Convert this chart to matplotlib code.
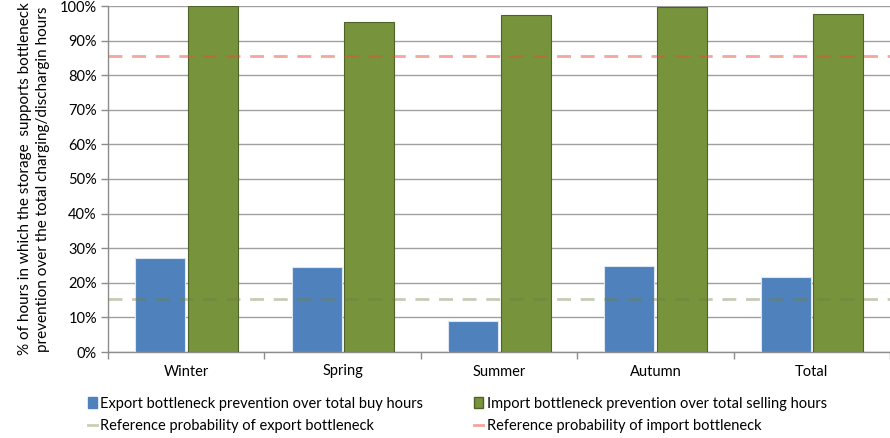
import matplotlib
matplotlib.use("Agg")
import matplotlib.pyplot as plt
import numpy as np
from matplotlib.ticker import MultipleLocator, PercentFormatter, FixedLocator, NullFormatter
from matplotlib.lines import Line2D
from matplotlib.patches import Patch

plt.rcParams['font.family'] = ['Lato', 'DejaVu Sans']

seasons = ["Winter", "Spring", "Summer", "Autumn", "Total"]
export_prevention = [27.2, 24.6, 9.0, 24.9, 21.7]
import_prevention = [100.0, 95.4, 97.4, 99.7, 97.7]
export_reference = 15.3
import_reference = 85.5

series_labels = [
    "Export bottleneck prevention over total buy hours",
    "Import bottleneck prevention over total selling hours",
    "Reference probability of export bottleneck",
    "Reference probability of import bottleneck",
]

fig = plt.figure(figsize=(8.9, 4.38), dpi=100)
ax = fig.add_axes([108 / 890, 1 - 352 / 438, 782 / 890, 346 / 438])

x = np.arange(len(seasons))
w = 0.32
ax.bar(x - 0.166, export_prevention, width=w, color="#4F81BD",
       edgecolor="#DCE6F2", linewidth=0.8, zorder=3)
ax.bar(x + 0.17, import_prevention, width=w, color="#77933C",
       edgecolor="#4F6228", linewidth=0.8, zorder=3)

ax.axhline(export_reference, color="#6E7F45", alpha=0.4, linewidth=2,
           dashes=(5, 3.5), zorder=4)
ax.axhline(import_reference, color="#E8503C", alpha=0.5, linewidth=2,
           dashes=(5, 3.5), zorder=4)

ax.set_xlim(-0.5, len(seasons) - 0.5)
ax.set_ylim(0, 100)
ax.yaxis.set_major_locator(MultipleLocator(10))
ax.yaxis.set_major_formatter(PercentFormatter(decimals=0))
ax.grid(axis="y", color="#A0A0A0", linewidth=1, zorder=0)

ax.set_xticks(x)
ax.set_xticklabels(seasons)
ax.xaxis.set_minor_locator(FixedLocator(np.arange(-0.5, len(seasons), 1.0)))
ax.xaxis.set_minor_formatter(NullFormatter())
ax.tick_params(axis="x", which="major", length=0, pad=9, labelsize=10.5, colors="#000000")
ax.tick_params(axis="x", which="minor", length=5, color="#8C8C8C", width=1)
ax.tick_params(axis="y", length=5, color="#8C8C8C", width=1, labelsize=10.5, pad=3)

for side in ["top", "right"]:
    ax.spines[side].set_visible(False)
for side in ["left", "bottom"]:
    ax.spines[side].set_color("#8C8C8C")
    ax.spines[side].set_linewidth(1)

ax.set_ylabel("% of hours in which the storage  supports bottleneck\n"
              "prevention over the total charging/dischargin hours",
              fontsize=11, labelpad=7, linespacing=1.4)

handles = [
    Patch(facecolor="#4F81BD", edgecolor="#4F81BD"),
    Patch(facecolor="#77933C", edgecolor="#4F6228"),
    Line2D([], [], color="#C9D0B4", linewidth=2),
    Line2D([], [], color="#F4A3A3", linewidth=2),
]
order = [0, 2, 1, 3]
fig.legend([handles[i] for i in order], [series_labels[i] for i in order],
           loc="upper left", bbox_to_anchor=(82 / 890, 1 - 391 / 438), ncol=2,
           frameon=False, fontsize=10.5, handlelength=0.6, handleheight=0.8,
           handletextpad=0.25, columnspacing=3.5, labelspacing=0.55,
           borderaxespad=0)

fig.savefig("out.png", dpi=100)
